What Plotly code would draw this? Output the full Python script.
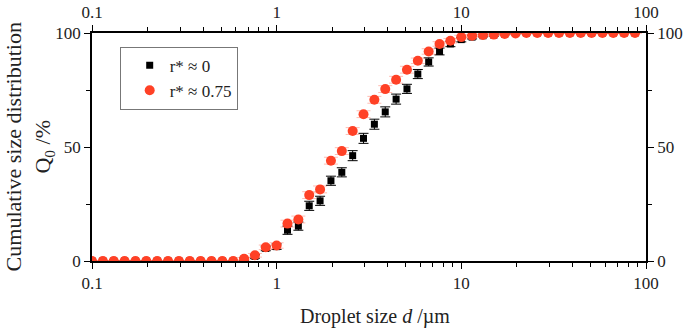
import plotly.graph_objects as go

# Droplet size classes (µm)
droplet_size = [0.100, 0.1145, 0.1311, 0.1501, 0.1719, 0.1968, 0.2254, 0.2581, 0.2955, 0.3383,
                0.3874, 0.4436, 0.5079, 0.5816, 0.6659, 0.7625, 0.8730, 0.9996, 1.1446, 1.3106,
                1.5007, 1.7183, 1.9675, 2.2528, 2.5794, 2.9534, 3.3817, 3.8720, 4.4335, 5.0764,
                5.8125, 6.6553, 7.6203, 8.7253, 9.9905, 11.439, 13.098, 14.997, 17.172, 19.662,
                22.513, 25.778, 29.516, 33.796, 38.696, 44.307, 50.732, 58.088, 66.511, 76.155,
                87.198]

# Q0 (%) for r* ≈ 0 (black squares)
q0_r0 = [0, 0, 0, 0, 0, 0, 0, 0, 0, 0,
         0, 0, 0, 0, 0.8, 2.0, 5.5, 6.3, 13.5, 15.3,
         24.2, 26.4, 35.2, 38.9, 46.2, 53.8, 60.0, 65.4, 71.0, 75.5,
         82.0, 87.3, 91.9, 95.2, 97.1, 98.2, 98.8, 99.1, 99.5, 99.8,
         100, 100, 100, 100, 100, 100, 100, 100, 100, 100,
         100]
err_r0 = [0, 0, 0, 0, 0, 0, 0, 0, 0, 0,
          0, 0, 0, 0, 0.5, 0.8, 1.0, 1.2, 1.8, 1.8,
          2.0, 2.0, 2.0, 2.0, 2.2, 2.2, 2.2, 2.2, 2.2, 2.0,
          2.0, 1.8, 1.5, 1.2, 1.0, 0.8, 0.5, 0.5, 0.3, 0.2,
          0, 0, 0, 0, 0, 0, 0, 0, 0, 0,
          0]

# Q0 (%) for r* ≈ 0.75 (red circles)
q0_r075 = [0, 0, 0, 0, 0, 0, 0, 0, 0, 0,
           0, 0, 0, 0, 1.0, 2.5, 6.0, 6.8, 16.4, 18.2,
           28.9, 31.4, 44.0, 48.2, 57.0, 64.4, 70.7, 75.4, 79.5, 83.9,
           87.8, 91.9, 95.2, 96.6, 98.2, 98.8, 99.1, 99.3, 99.6, 99.8,
           100, 100, 100, 100, 100, 100, 100, 100, 100, 100,
           100]
err_r075 = [0, 0, 0, 0, 0, 0, 0, 0, 0, 0,
            0, 0, 0, 0, 0.5, 0.8, 1.0, 1.2, 1.5, 1.5,
            1.5, 1.5, 1.5, 1.5, 1.5, 1.5, 1.5, 1.5, 1.5, 1.5,
            1.2, 1.2, 1.0, 1.0, 0.8, 0.5, 0.5, 0.3, 0.3, 0.2,
            0, 0, 0, 0, 0, 0, 0, 0, 0, 0,
            0]

series_names = ["r* ≈ 0", "r* ≈ 0.75"]

x_ticks = [0.1, 1, 10, 100]
x_ticklabels = ["0.1", "1", "10", "100"]
x_minor_ticks = [0.2, 0.3, 0.4, 0.5, 0.6, 0.7, 0.8, 0.9,
                 2, 3, 4, 5, 6, 7, 8, 9,
                 20, 30, 40, 50, 60, 70, 80, 90]
y_ticks = [0, 50, 100]
y_minor_ticks = [25, 75]

x_title = "Droplet size <i>d</i> /µm"
y_title = "Cumulative size distribution<br>Q<sub>0</sub> /%"

FONT = "Liberation Serif"
RED = "#FF4126"

fig = go.Figure()
fig.add_trace(go.Scatter(
    x=droplet_size, y=q0_r0, mode="markers", name=series_names[0],
    marker=dict(symbol="square", size=7, color="black"),
    error_y=dict(type="data", array=err_r0, color="black", thickness=1, width=5, visible=True),
))
fig.add_trace(go.Scatter(
    x=droplet_size, y=q0_r075, mode="markers", name=series_names[1],
    marker=dict(symbol="circle", size=10, color=RED),
    error_y=dict(type="data", array=err_r075, color="rgba(255,65,38,0.35)", thickness=1, width=7, visible=True),
))
# invisible trace to anchor the mirrored top/right axes
fig.add_trace(go.Scatter(x=[1], y=[50], xaxis="x2", yaxis="y2", mode="markers",
                         marker=dict(opacity=0), showlegend=False, hoverinfo="skip"))

axis_common = dict(showline=True, linecolor="black", linewidth=1.5, showgrid=False, zeroline=False,
                   ticks="outside", ticklen=6, tickwidth=1.2, tickcolor="black", automargin=False,
                   tickfont=dict(family=FONT, size=17, color="#222"))
x_minor = dict(tickvals=x_minor_ticks, ticks="outside", ticklen=4, tickcolor="black", tickwidth=1, showgrid=False)
y_minor = dict(tickvals=y_minor_ticks, ticks="outside", ticklen=4, tickcolor="black", tickwidth=1, showgrid=False)

fig.update_layout(
    width=685, height=334,
    margin=dict(l=92, r=39, t=33, b=73),
    paper_bgcolor="white", plot_bgcolor="white",
    font=dict(family=FONT, color="#222"),
    xaxis=dict(type="log", range=[-1, 2], tickvals=x_ticks, ticktext=x_ticklabels, minor=x_minor,
               **axis_common),
    xaxis2=dict(type="log", range=[-1, 2], overlaying="x", side="top", anchor="y",
                tickvals=x_ticks, ticktext=x_ticklabels, minor=x_minor, **axis_common),
    yaxis=dict(range=[0, 100], tickvals=y_ticks, minor=y_minor, **axis_common),
    yaxis2=dict(range=[0, 100], tickvals=y_ticks, overlaying="y", side="right", anchor="x",
                minor=y_minor, **axis_common),
    legend=dict(x=0.05, y=0.94, xanchor="left", yanchor="top", indentation=9,
                bordercolor="#777", borderwidth=1, bgcolor="white",
                font=dict(family=FONT, size=17, color="#222")),
    showlegend=True,
    annotations=[
        dict(text=x_title, xref="paper", yref="paper", x=0.511, y=-0.243,
             xanchor="center", yanchor="middle", showarrow=False,
             font=dict(family=FONT, size=20, color="#222")),
        dict(text=y_title, xref="paper", yref="paper", x=-0.113, y=0.5,
             xanchor="center", yanchor="middle", showarrow=False, textangle=-90,
             font=dict(family=FONT, size=22, color="#222")),
    ],
)

fig.write_html("out.html", config={"displayModeBar": False},
               post_script="document.body.style.margin='0px';")
